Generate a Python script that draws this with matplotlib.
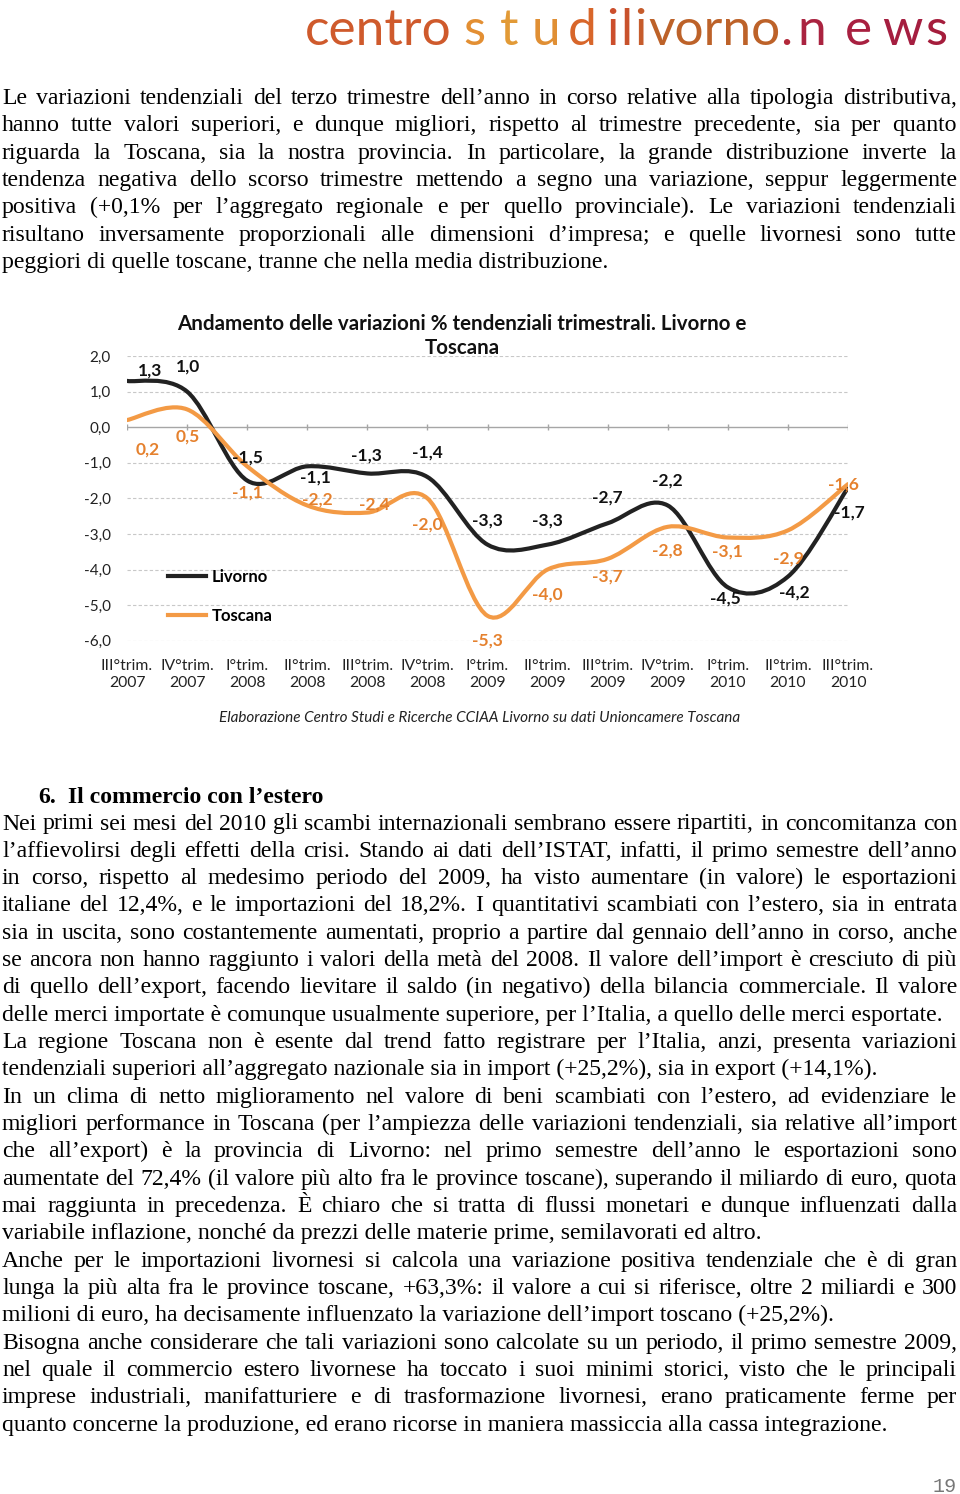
import numpy as np
import matplotlib
matplotlib.use('Agg')
import matplotlib.pyplot as plt
from matplotlib.path import Path
from matplotlib.patches import PathPatch
from matplotlib.lines import Line2D

# chart data
quarters = ['III°trim.\n2007', 'IV°trim.\n2007', 'I°trim.\n2008', 'II°trim.\n2008',
            'III°trim.\n2008', 'IV°trim.\n2008', 'I°trim.\n2009', 'II°trim.\n2009',
            'III°trim.\n2009', 'IV°trim.\n2009', 'I°trim.\n2010', 'II°trim.\n2010',
            'III°trim.\n2010']
livorno = [1.3, 1.0, -1.5, -1.1, -1.3, -1.4, -3.3, -3.3, -2.7, -2.2, -4.5, -4.2, -1.7]
toscana = [0.2, 0.5, -1.1, -2.2, -2.4, -2.0, -5.3, -4.0, -3.7, -2.8, -3.1, -2.9, -1.6]
y_ticks = [2, 1, 0, -1, -2, -3, -4, -5, -6]

title = 'Andamento delle variazioni % tendenziali trimestrali. Livorno e\nToscana'
source = 'Elaborazione Centro Studi e Ricerche CCIAA Livorno su dati Unioncamere Toscana'

# page text
para1 = [
    'Le variazioni tendenziali del terzo trimestre dell’anno in corso relative alla tipologia distributiva,',
    'hanno tutte valori superiori, e dunque migliori, rispetto al trimestre precedente, sia per quanto',
    'riguarda la Toscana, sia la nostra provincia. In particolare, la grande distribuzione inverte la',
    'tendenza negativa dello scorso trimestre mettendo a segno una variazione, seppur leggermente',
    'positiva (+0,1% per l’aggregato regionale e per quello provinciale). Le variazioni tendenziali',
    'risultano inversamente proporzionali alle dimensioni d’impresa; e quelle livornesi sono tutte',
    'peggiori di quelle toscane, tranne che nella media distribuzione.',
]
heading_num = '6.'
heading = 'Il commercio con l’estero'
para2 = [
    'Nei primi sei mesi del 2010 gli scambi internazionali sembrano essere ripartiti, in concomitanza con',
    'l’affievolirsi degli effetti della crisi. Stando ai dati dell’ISTAT, infatti, il primo semestre dell’anno',
    'in corso, rispetto al medesimo periodo del 2009, ha visto aumentare (in valore) le esportazioni',
    'italiane del 12,4%, e le importazioni del 18,2%. I quantitativi scambiati con l’estero, sia in entrata',
    'sia in uscita, sono costantemente aumentati, proprio a partire dal gennaio dell’anno in corso, anche',
    'se ancora non hanno raggiunto i valori della metà del 2008. Il valore dell’import è cresciuto di più',
    'di quello dell’export, facendo lievitare il saldo (in negativo) della bilancia commerciale. Il valore',
    'delle merci importate è comunque usualmente superiore, per l’Italia, a quello delle merci esportate.',
    'La regione Toscana non è esente dal trend fatto registrare per l’Italia, anzi, presenta variazioni',
    'tendenziali superiori all’aggregato nazionale sia in import (+25,2%), sia in export (+14,1%).',
    'In un clima di netto miglioramento nel valore di beni scambiati con l’estero, ad evidenziare le',
    'migliori performance in Toscana (per l’ampiezza delle variazioni tendenziali, sia relative all’import',
    'che all’export) è la provincia di Livorno: nel primo semestre dell’anno le esportazioni sono',
    'aumentate del 72,4% (il valore più alto fra le province toscane), superando il miliardo di euro, quota',
    'mai raggiunta in precedenza. È chiaro che si tratta di flussi monetari e dunque influenzati dalla',
    'variabile inflazione, nonché da prezzi delle materie prime, semilavorati ed altro.',
    'Anche per le importazioni livornesi si calcola una variazione positiva tendenziale che è di gran',
    'lunga la più alta fra le province toscane, +63,3%: il valore a cui si riferisce, oltre 2 miliardi e 300',
    'milioni di euro, ha decisamente influenzato la variazione dell’import toscano (+25,2%).',
    'Bisogna anche considerare che tali variazioni sono calcolate su un periodo, il primo semestre 2009,',
    'nel quale il commercio estero livornese ha toccato i suoi minimi storici, visto che le principali',
    'imprese industriali, manifatturiere e di trasformazione livornesi, erano praticamente ferme per',
    'quanto concerne la produzione, ed erano ricorse in maniera massiccia alla cassa integrazione.',
]
para2_last = [7, 9, 15, 18, 22]   # lines ending a paragraph (not justified)

# logo pieces
logo_parts = ['centro', 's', 't', 'u', 'd', 'i', 'l', 'i', 'vorno', '.', 'n', 'e', 'w', 's']
logo_x = [305, 463, 500, 532, 568, 606, 620, 634, 648, 780, 797, 845, 882, 925]
logo_col = ['#cf5a2c', '#e38f33', '#e29a36', '#e08f34', '#d8662a', '#cc4e2c',
            '#c8522c', '#c65c2c', '#bd6229', '#b3283a', '#aa2340', '#a82040',
            '#a51e40', '#a51d3c']

# label offsets in pixels (x right, y up)
liv_off = [(23, 10), (1, 25), (0, 23), (8, -11), (-1, 18), (0, 24), (0, 24),
           (0, 24), (0, 26), (0, 25), (-2, -11), (6, -16), (1, -25)]
tos_off = [(21, -29), (1, -27), (0, -26), (10, 6), (7, 8), (0, -26), (0, -25),
           (0, -25), (0, -18), (0, -24), (0, -14), (0, -28), (-5, 0)]

LIV_COL = '#222222'
TOS_COL = '#f39a45'
TOS_LAB = '#e5812e'
BODY_FS = 17.15
SERIF = 'Liberation Serif'
CHART_FONT = 'Lato'

fig = plt.figure(figsize=(9.6, 14.94), dpi=100)
page = fig.add_axes([0, 0, 1, 1])
page.set_xlim(0, 960)
page.set_ylim(1494, 0)
page.axis('off')
renderer = fig.canvas.get_renderer()


def put_line(y, text, justify, x0=2, x1=957, **kw):
    if not justify:
        page.text(x0, y, text, va='baseline', **kw)
        return
    words = text.split(' ')
    arts = [page.text(0, y, w, va='baseline', **kw) for w in words]
    widths = [a.get_window_extent(renderer).width for a in arts]
    gap = (x1 - x0 - sum(widths)) / (len(words) - 1)
    x = x0
    for a, w in zip(arts, widths):
        a.set_x(x)
        x += w + gap


# logo
for s, x, c in zip(logo_parts, logo_x, logo_col):
    page.text(x, 45, s, fontsize=37, family='Lato', color=c, va='baseline')

# first paragraph
for i, line in enumerate(para1):
    put_line(104 + 27.35 * i, line, i < len(para1) - 1,
             fontsize=BODY_FS, family=SERIF)

# heading
page.text(38, 803, heading_num, fontsize=BODY_FS, family=SERIF,
          fontweight='bold', va='baseline')
page.text(68, 803, heading, fontsize=BODY_FS, family=SERIF,
          fontweight='bold', va='baseline')

for i, line in enumerate(para2):
    put_line(829.5 + 27.33 * i, line, i not in para2_last,
             fontsize=BODY_FS, family=SERIF)

page.text(957, 1492, '19', fontsize=14.5, family='Liberation Mono',
          color='#777777', ha='right', va='baseline')

# chart
page.text(462, 336, title, fontsize=14.8, family=CHART_FONT, fontweight='bold',
          ha='center', va='center', linespacing=1.3, color='#111111')
page.text(480, 718, source, fontsize=11, family=CHART_FONT, style='italic',
          ha='center', va='center', color='#222222')

ax = fig.add_axes([127 / 960, 1 - 640.7 / 1494, 721 / 960, 284.7 / 1494])
ax.set_xlim(0, len(quarters) - 1)
ax.set_ylim(-6, 2)
ax.patch.set_alpha(0)
for s in ax.spines.values():
    s.set_visible(False)

for v in y_ticks:
    if v == 0:
        ax.axhline(0, color='#a6a6a6', lw=1.0, zorder=1)
    else:
        ax.axhline(v, color='#c8c8c8', lw=0.8, ls=(0, (3, 2)), zorder=1)
xs = np.arange(len(quarters))
ax.vlines(xs, -0.09, 0.09, color='#a6a6a6', lw=1.0, zorder=1)

ax.set_yticks(y_ticks)
ax.set_yticklabels([f'{v:.1f}'.replace('.', ',') for v in y_ticks],
                   family=CHART_FONT, fontsize=11, color='#222222')
ax.set_xticks(xs)
ax.set_xticklabels(quarters, family=CHART_FONT, fontsize=11.3, color='#222222',
                   linespacing=1.3)
ax.tick_params(axis='both', length=0)
ax.tick_params(axis='y', pad=11.5)
ax.tick_params(axis='x', pad=13)


def smooth_path(x, y):
    pts = np.column_stack([x, y]).astype(float)
    n = len(pts)
    verts = [pts[0]]
    codes = [Path.MOVETO]
    for i in range(n - 1):
        p0 = pts[max(i - 1, 0)]
        p1 = pts[i]
        p2 = pts[i + 1]
        p3 = pts[min(i + 2, n - 1)]
        verts += [p1 + (p2 - p0) / 6, p2 - (p3 - p1) / 6, p2]
        codes += [Path.CURVE4] * 3
    return Path(verts, codes)


ax.add_patch(PathPatch(smooth_path(xs, livorno), fill=False, ec=LIV_COL,
                       lw=3.0, capstyle='round', zorder=3))
ax.add_patch(PathPatch(smooth_path(xs, toscana), fill=False, ec=TOS_COL,
                       lw=3.0, capstyle='round', zorder=4))

for x, v, off in zip(xs, livorno, liv_off):
    ax.annotate(f'{v:.1f}'.replace('.', ','), (x, v), xytext=off,
                textcoords='offset pixels', ha='center', va='center',
                fontsize=12.5, family=CHART_FONT, fontweight='bold',
                color='#111111', zorder=5, annotation_clip=False)
for x, v, off in zip(xs, toscana, tos_off):
    ax.annotate(f'{v:.1f}'.replace('.', ','), (x, v), xytext=off,
                textcoords='offset pixels', ha='center', va='center',
                fontsize=12.5, family=CHART_FONT, fontweight='bold',
                color=TOS_LAB, zorder=5, annotation_clip=False)

handles = [Line2D([], [], color=LIV_COL, lw=3.0),
           Line2D([], [], color=TOS_COL, lw=3.0)]
leg = ax.legend(handles, ['Livorno', 'Toscana'], loc='upper left',
                bbox_to_anchor=(0.057, 0.252), frameon=False, borderpad=0,
                borderaxespad=0, handlelength=2.3, handletextpad=0.3,
                labelspacing=1.4,
                prop={'family': CHART_FONT, 'weight': 'bold', 'size': 12})

fig.savefig('out.png', dpi=100, facecolor='white')
